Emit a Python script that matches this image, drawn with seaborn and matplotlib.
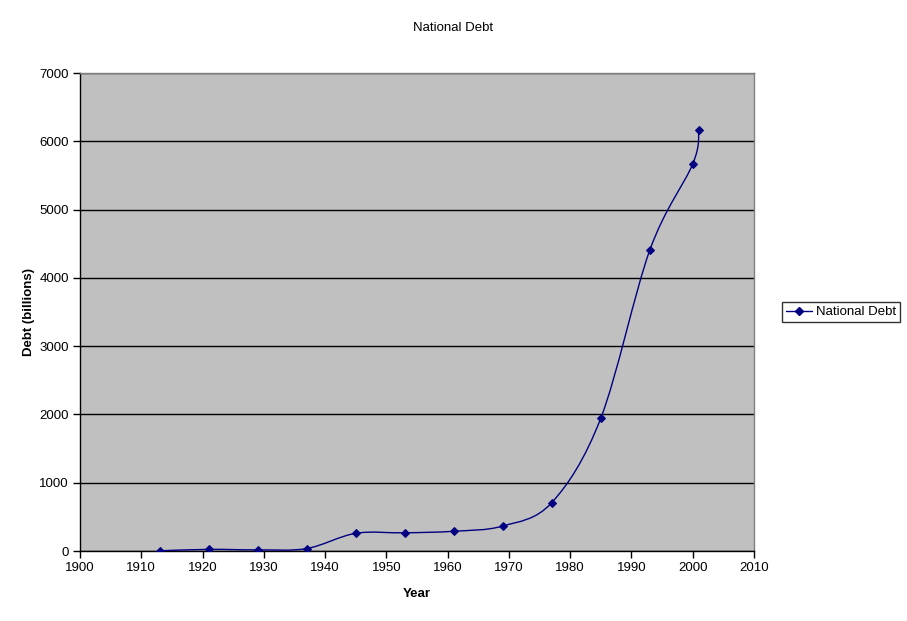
import matplotlib
matplotlib.use("Agg")
from matplotlib import pyplot as plt
from matplotlib.path import Path
from matplotlib.patches import PathPatch
from matplotlib.lines import Line2D
import numpy as np
import pandas as pd
import seaborn as sns

years = [1913, 1921, 1929, 1937, 1945, 1953, 1961, 1969, 1977, 1985, 1993, 2000, 2001]
debt = [3, 24, 17, 36, 259, 266, 289, 366, 709, 1946, 4408, 5667, 6160]

df = pd.DataFrame({"Year": years, "Debt": debt})

sns.set_style("white")
plt.rcParams["font.family"] = ["Liberation Sans", "DejaVu Sans"]
plt.rcParams["text.color"] = "black"
plt.rcParams["axes.labelcolor"] = "black"
plt.rcParams["xtick.color"] = "black"
plt.rcParams["ytick.color"] = "black"

navy = "#000080"

fig = plt.figure(figsize=(9.07, 6.21), dpi=100)
ax = fig.add_axes([80 / 907, 70 / 621, 674 / 907, 478 / 621])
ax.set_facecolor("#c0c0c0")

# smoothed line like Excel: bezier segments through the points
pts = df[["Year", "Debt"]].to_numpy(dtype=float)
n = len(pts)
verts = [tuple(pts[0])]
codes = [Path.MOVETO]
for i in range(n - 1):
    p_prev = pts[i - 1] if i > 0 else pts[i]
    p_next2 = pts[i + 2] if i + 2 < n else pts[i + 1]
    c1 = pts[i] + (pts[i + 1] - p_prev) / 6
    c2 = pts[i + 1] - (p_next2 - pts[i]) / 6
    verts += [tuple(c1), tuple(c2), tuple(pts[i + 1])]
    codes += [Path.CURVE4] * 3
ax.add_patch(PathPatch(Path(verts, codes), facecolor="none", edgecolor=navy,
                       lw=1, zorder=3))

sns.lineplot(data=df, x="Year", y="Debt", ax=ax, marker="D", linestyle="",
             color=navy, markersize=4.5, markeredgecolor=navy, zorder=4,
             legend=False)

ax.set_xlim(1900, 2010)
ax.set_ylim(0, 7000)
ax.set_xticks(range(1900, 2011, 10))
ax.set_yticks(range(0, 7001, 1000))
ax.yaxis.grid(True, color="black", lw=1)
ax.xaxis.grid(False)
ax.set_axisbelow(True)
ax.tick_params(axis="both", direction="out", length=5, width=1, color="black",
               labelcolor="black", labelsize=9.5, pad=3, bottom=True, left=True)
for s in ["left", "bottom"]:
    ax.spines[s].set_color("black")
    ax.spines[s].set_linewidth(1)
for s in ["top", "right"]:
    ax.spines[s].set_color("#808080")
    ax.spines[s].set_linewidth(1)

ax.set_xlabel("Year", fontsize=9.5, fontweight="bold", labelpad=10, color="black")
ax.set_ylabel("Debt (billions)", fontsize=9.5, fontweight="bold", labelpad=3,
              color="black")
fig.text(453 / 907, 1 - 28 / 621, "National Debt", ha="center", va="center",
         fontsize=9.5, color="black")

handle = Line2D([], [], color=navy, marker="D", markersize=4.5, lw=1)
leg = fig.legend([handle], ["National Debt"], loc="center left",
                 bbox_to_anchor=(782 / 907, 1 - 312 / 621), fontsize=9.5,
                 frameon=True, fancybox=False, borderpad=0.3,
                 handlelength=2.0, handletextpad=0.25, borderaxespad=0)
leg.get_frame().set_edgecolor("black")
leg.get_frame().set_linewidth(1)
for t in leg.get_texts():
    t.set_color("black")

fig.savefig("out.png", dpi=100)
